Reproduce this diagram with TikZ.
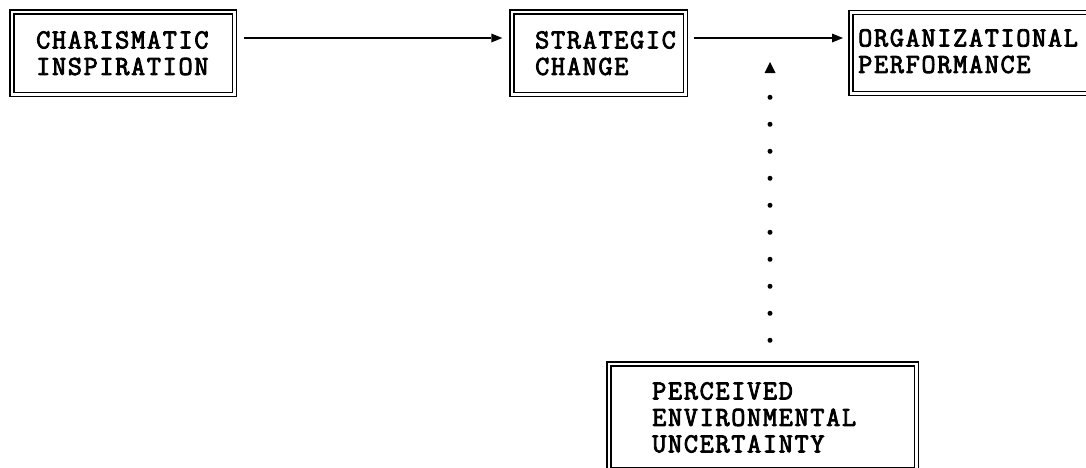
\documentclass[tikz,border=0pt]{standalone}
\usepackage{fontspec}
\newfontfamily\boxfont{Latin Modern Mono}[FakeBold=3, LetterSpace=6]
\usetikzlibrary{arrows.meta}
\tikzset{
  dline/.style={draw=black, double=white, line width=1.5pt, double distance=2.5pt},
  dbox/.style={dline, inner sep=0pt},
  lbl/.style={anchor=north west, inner sep=0pt, align=left,
    font=\boxfont\fontsize{27.5}{26.5}\selectfont},
  arr/.style={line width=1.5pt, -{Triangle[length=11pt,width=9pt,line width=0pt]}},
  dotconn/.style={line width=5pt, line cap=round, dash pattern=on 0pt off 27pt,
    -{Triangle[length=11pt,width=11pt,line width=0pt]}}
}
\begin{document}
\begin{tikzpicture}[x=1pt,y=-1pt]
\useasboundingbox (0,0) rectangle (1086,467);
\clip (0,0) rectangle (1086,467);
% boxes
\node[dbox, minimum width=222.5pt, minimum height=82.5pt] (b1) at (123,53) {};
\node[dbox, minimum width=173.5pt, minimum height=82.5pt] (b2) at (598.5,53) {};
\node[inner sep=0pt, minimum width=300pt, minimum height=80.5pt, anchor=west] (b3) at (850.75,53) {};
\draw[dline] (b3.north east) -- (b3.north west) -- (b3.south west) -- (b3.south east);
\node[dbox, minimum width=307.5pt, minimum height=106.25pt] (b4) at (762.5,416.9) {};
% texts
\node[lbl] (t1) at (36,31) {CHARISMATIC\\INSPIRATION};
\node[lbl] (t2) at (535,31) {STRATEGIC\\CHANGE};
\node[lbl] (t3) at (858,29) {ORGANIZATIONAL\\PERFORMANCE};
\node[lbl] (t4) at (652,382) {PERCEIVED\\ENVIRONMENTAL\\UNCERTAINTY};
% connectors
\draw[arr, shorten <=8.75pt, shorten >=8.75pt] ([yshift=15pt]b1.east) -- ([yshift=15pt]b2.west);
\draw[arr, shorten <=7.75pt, shorten >=7.75pt] ([yshift=15pt]b2.east) -- ([yshift=15pt]b3.west);
\coordinate (m) at (770,62);
\draw[dotconn, shorten <=22.75pt] (m |- b4.north) -- (m);
\end{tikzpicture}
\end{document}
